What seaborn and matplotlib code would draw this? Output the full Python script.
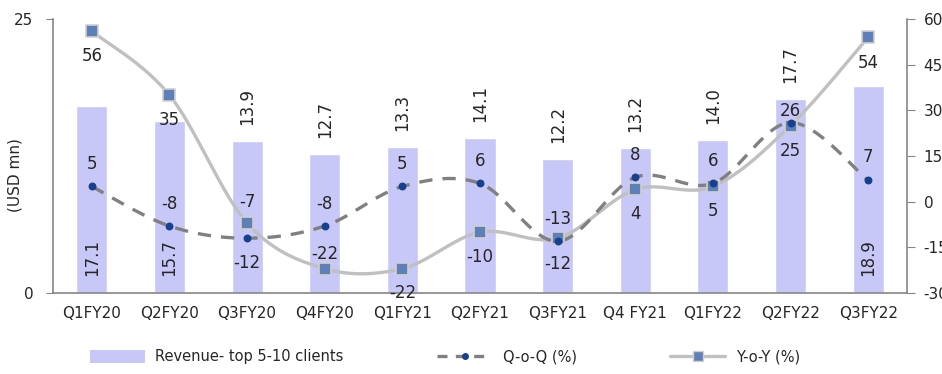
import numpy as np
import pandas as pd
import matplotlib
matplotlib.use("Agg")
import matplotlib.pyplot as plt
from matplotlib.lines import Line2D
from matplotlib.patches import Patch
import seaborn as sns

# ---- data ----
quarters = ["Q1FY20", "Q2FY20", "Q3FY20", "Q4FY20", "Q1FY21", "Q2FY21",
            "Q3FY21", "Q4 FY21", "Q1FY22", "Q2FY22", "Q3FY22"]
revenue = [17.1, 15.7, 13.9, 12.7, 13.3, 14.1, 12.2, 13.2, 14.0, 17.7, 18.9]
qoq = [5, -8, -12, -8, 5, 6, -13, 8, 6, 26, 7]
yoy = [56, 35, -7, -22, -22, -10, -12, 4, 5, 25, 54]

# ---- label placement (pixels; positive = above the point) ----
bar_label_inside = [True, True, False, False, False, False, False, False, False, False, True]
qoq_label_dy = [22, 22, -25, 22, 22, 22, 22, 22, 22, 12, 23]
yoy_label_dy = [-25, -25, 21, 15, -24, -25, -26, -25, -25, -25, -26]

BAR_COLOR = "#C8C8F8"
YOY_LINE = "#C0C0C0"
YOY_MARK = "#5F7FB8"
QOQ_LINE = "#808080"
QOQ_MARK = "#17408F"
SPINE = "#868686"

sns.set_style("white")
plt.rcParams["font.family"] = ["DejaVu Sans"]
plt.rcParams["axes.unicode_minus"] = False


def smooth(xs, ys, n=30):
    """Uniform Catmull-Rom curve through the points (Excel-style smoothing)."""
    p = np.column_stack([xs, ys]).astype(float)
    p = np.vstack([p[0], p, p[-1]])
    out = []
    for i in range(1, len(p) - 2):
        p0, p1, p2, p3 = p[i - 1], p[i], p[i + 1], p[i + 2]
        t = np.linspace(0, 1, n)[:, None]
        seg = 0.5 * ((2 * p1) + (-p0 + p2) * t + (2 * p0 - 5 * p1 + 4 * p2 - p3) * t ** 2
                     + (-p0 + 3 * p1 - 3 * p2 + p3) * t ** 3)
        out.append(seg if i == 1 else seg[1:])
    c = np.vstack(out)
    return c[:, 0], c[:, 1]


fig = plt.figure(figsize=(9.42, 3.74), dpi=100)
ax = fig.add_axes([53 / 942, 1 - 293 / 374, (907 - 53) / 942, (293 - 19) / 374])

df = pd.DataFrame({"quarter": quarters, "revenue": revenue})
sns.barplot(data=df, x="quarter", y="revenue", color=BAR_COLOR, saturation=1,
            width=0.4, ax=ax)
ax.set_ylim(0, 25)
ax.set_xlim(-0.5, len(quarters) - 0.5)
ax.set_yticks([0, 25])
ax.set_xlabel("")
ax.set_ylabel("")

for i, v in enumerate(revenue):
    if bar_label_inside[i]:
        ax.annotate(f"{v:.1f}", (i, 0), xytext=(0, 17), textcoords="offset pixels",
                    rotation=90, ha="center", va="bottom", fontsize=12)
    else:
        ax.annotate(f"{v:.1f}", (i, v), xytext=(0, 16), textcoords="offset pixels",
                    rotation=90, ha="center", va="bottom", fontsize=12)

# x axis: ticks between categories
ax.set_xticks(range(len(quarters)))
ax.set_xticklabels(quarters, fontsize=11)
ax.set_xticks(np.arange(-0.5, len(quarters), 1), minor=True)
ax.tick_params(axis="x", which="major", length=0, pad=9)
ax.tick_params(axis="x", which="minor", length=5, color=SPINE, direction="out")
ax.tick_params(axis="y", length=5, color=SPINE, direction="out", labelsize=11, pad=9)
for s in ["left", "bottom"]:
    ax.spines[s].set_color(SPINE)
    ax.spines[s].set_linewidth(1.2)
ax.spines["top"].set_visible(False)
ax.spines["right"].set_visible(False)

# right axis: growth rates
ax2 = ax.twinx()
ax2.set_ylim(-30, 60)
ax2.set_yticks([-30, -15, 0, 15, 30, 45, 60])
ax2.tick_params(axis="y", length=6, color=SPINE, direction="out", labelsize=11, pad=6)
for s in ["top", "left", "bottom"]:
    ax2.spines[s].set_visible(False)
ax2.spines["right"].set_color(SPINE)
ax2.spines["right"].set_linewidth(1.2)

xs = np.arange(len(quarters))
cx, cy = smooth(xs, yoy)
ax2.plot(cx, cy, color=YOY_LINE, lw=2.4, solid_capstyle="round", zorder=3)
cx, cy = smooth(xs, qoq)
ax2.plot(cx, cy, color=QOQ_LINE, lw=2.4, dashes=(4, 3), zorder=4)
ax2.scatter(xs, yoy, marker="s", s=70, color=YOY_MARK, edgecolor="#D0D0D0",
            linewidth=1.2, zorder=5)
ax2.scatter(xs, qoq, marker="o", s=22, color=QOQ_MARK, edgecolor=QOQ_MARK, zorder=6)

for i in range(len(quarters)):
    ax2.annotate(f"{qoq[i]}", (i, qoq[i]), xytext=(0, qoq_label_dy[i]),
                 textcoords="offset pixels", ha="center", va="center", fontsize=12, zorder=7)
    ax2.annotate(f"{yoy[i]}", (i, yoy[i]), xytext=(0, yoy_label_dy[i]),
                 textcoords="offset pixels", ha="center", va="center", fontsize=12, zorder=7)

fig.text(15 / 942, 1 - 175 / 374, "(USD mn)", rotation=90, ha="center", va="center",
         fontsize=11)

handles = [
    Patch(facecolor=BAR_COLOR, edgecolor="none"),
    Line2D([], [], color=QOQ_LINE, lw=2.4, dashes=(3, 2.5), marker="o", markersize=4,
           markerfacecolor=QOQ_MARK, markeredgecolor=QOQ_MARK),
    Line2D([], [], color=YOY_LINE, lw=2.4, marker="s", markersize=7,
           markerfacecolor=YOY_MARK, markeredgecolor="#D0D0D0"),
]
labels = ["Revenue- top 5-10 clients", "Q-o-Q (%)", "Y-o-Y (%)"]
fig.legend(handles, labels, loc="center", bbox_to_anchor=(0.472, 1 - 357 / 374),
           ncol=3, frameon=False, fontsize=10.5, handlelength=3.8, handleheight=0.9,
           handletextpad=0.7, columnspacing=6.4)

fig.savefig("out.png", dpi=100)
